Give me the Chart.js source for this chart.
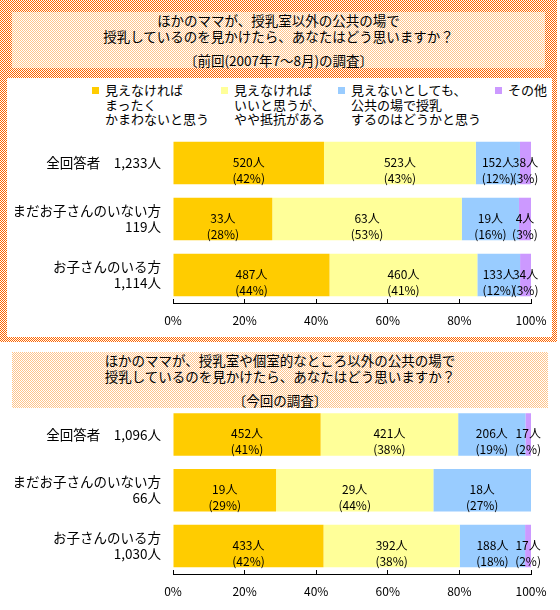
<!DOCTYPE html>
<html lang="ja">
<head>
<meta charset="UTF-8">
<title>授乳室以外の公共の場での授乳について</title>
<script src="https://cdn.jsdelivr.net/npm/chart.js@4"></script>
<style>
  body { margin: 0; background: #fff; font-family: "Noto Sans CJK JP", sans-serif; color: #000; }
  #page { position: relative; width: 560px; height: 610px; overflow: hidden; }
  .frame { position: absolute; left: 0; top: 0; width: 557px; height: 342px; background-color: #ff9a55;
    background-image: url("data:image/svg+xml,%3Csvg xmlns='http://www.w3.org/2000/svg' width='2' height='2' shape-rendering='crispEdges'%3E%3Crect width='2' height='2' fill='%23ffffff'/%3E%3Crect width='1' height='1' fill='%23ff6600'/%3E%3Crect x='1' y='1' width='1' height='1' fill='%23ff6600'/%3E%3C/svg%3E"); }
  .inner { position: absolute; left: 7px; top: 78px; width: 545px; height: 259px; background: #fff; }
  .title { position: absolute; left: 12px; height: 56px; text-align: center;
    font-size: 13.5px; line-height: 16px; background-color: #ffe2c6;
    background-image: url("data:image/svg+xml,%3Csvg xmlns='http://www.w3.org/2000/svg' width='2' height='2' shape-rendering='crispEdges'%3E%3Crect width='2' height='2' fill='%23ffffff'/%3E%3Crect width='1' height='1' fill='%23ffc48a'/%3E%3Crect x='1' y='1' width='1' height='1' fill='%23ffc48a'/%3E%3C/svg%3E"); }
  .title .sub { margin-top: 8px; }
  .legend-item { position: absolute; top: 83px; font-size: 13px; line-height: 14.5px; white-space: pre-line; }
  .legend-item i { position: absolute; left: -13px; top: 4px; width: 7px; height: 7px; }
  canvas { position: absolute; left: 0; }
</style>
</head>
<body>
<div id="page">
  <div class="frame"></div>
  <div class="title" style="top:12px; width:533px;">
    <div>ほかのママが、授乳室以外の公共の場で</div>
    <div>授乳しているのを見かけたら、あなたはどう思いますか？</div>
    <div class="sub">〔前回(2007年7～8月)の調査〕</div>
  </div>
  <div class="inner"></div>
  <div id="legend"></div>
  <div class="title" style="top:352px; width:536px;">
    <div>ほかのママが、授乳室や個室的なところ以外の公共の場で</div>
    <div>授乳しているのを見かけたら、あなたはどう思いますか？</div>
    <div class="sub">〔今回の調査〕</div>
  </div>
  <canvas id="prevChart" width="560" height="210" style="top:128px"></canvas>
  <canvas id="currChart" width="560" height="210" style="top:400px"></canvas>
</div>
<script>
  // 回答の選択肢
  const seriesNames = [
    '見えなければ\nまったく\nかまわないと思う',
    '見えなければ\nいいと思うが、\nやや抵抗がある',
    '見えないとしても、\n公共の場で授乳\nするのはどうかと思う',
    'その他'
  ];
  const seriesColors = ['#FFCC00', '#FFFF99', '#99CCFF', '#CC99FF'];

  // 前回(2007年7～8月)の調査
  const prevGroups = [['全回答者　1,233人'], ['まだお子さんのいない方', '119人'], ['お子さんのいる方', '1,114人']];
  const prevTotals = [1233, 119, 1114];
  const prevCounts = [[520, 33, 487], [523, 63, 460], [152, 19, 133], [38, 4, 34]];
  const prevPercents = [[42, 28, 44], [43, 53, 41], [12, 16, 12], [3, 3, 3]];

  // 今回の調査
  const currGroups = [['全回答者　1,096人'], ['まだお子さんのいない方', '66人'], ['お子さんのいる方', '1,030人']];
  const currTotals = [1096, 66, 1030];
  const currCounts = [[452, 19, 433], [421, 29, 392], [206, 18, 188], [17, 0, 17]];
  const currPercents = [[41, 29, 42], [38, 44, 38], [19, 27, 18], [2, 0, 2]];

  // 凡例の位置
  const legendX = [105, 234, 351, 508];

  const legendBox = document.getElementById('legend');
  seriesNames.forEach((name, i) => {
    const item = document.createElement('div');
    item.className = 'legend-item';
    item.style.left = legendX[i] + 'px';
    item.textContent = name;
    const sw = document.createElement('i');
    sw.style.background = seriesColors[i];
    item.appendChild(sw);
    legendBox.appendChild(item);
  });

  Chart.defaults.font.family = '"Noto Sans CJK JP", sans-serif';
  Chart.defaults.color = '#000';

  // 棒の中に人数と割合を書く
  const barLabels = {
    id: 'barLabels',
    afterDatasetsDraw(chart) {
      const ctx = chart.ctx;
      ctx.save();
      ctx.font = '12px "Noto Sans CJK JP"';
      ctx.fillStyle = '#000';
      ctx.textAlign = 'center';
      ctx.textBaseline = 'middle';
      chart.data.datasets.forEach((ds, i) => {
        chart.getDatasetMeta(i).data.forEach((bar, j) => {
          const n = ds.counts[j];
          if (!n) return;
          const x = (bar.x + bar.base) / 2;
          ctx.fillText(n + '人', x, bar.y - 1);
          ctx.fillText('(' + ds.percents[j] + '%)', x, bar.y + 15);
        });
      });
      ctx.restore();
    }
  };

  function makeChart(id, groups, totals, counts, percents, padTop, axisHeight) {
    return new Chart(document.getElementById(id), {
      type: 'bar',
      data: {
        labels: groups,
        datasets: counts.map((row, i) => ({
          label: seriesNames[i],
          data: row.map((n, j) => n / totals[j] * 100),
          counts: row,
          percents: percents[i],
          backgroundColor: seriesColors[i],
          borderWidth: 0,
          barPercentage: 0.76,
          categoryPercentage: 1
        }))
      },
      options: {
        indexAxis: 'y',
        responsive: false,
        animation: false,
        layout: { padding: { top: padTop, right: 29, bottom: 0, left: 0 } },
        plugins: { legend: { display: false }, tooltip: { enabled: false } },
        scales: {
          x: {
            stacked: true,
            min: 0,
            max: 100,
            ticks: { stepSize: 20, callback: v => v + '%', font: { size: 12 }, padding: 14, maxRotation: 0 },
            grid: { drawOnChartArea: false, drawTicks: true, tickLength: -4, color: '#000' },
            border: { display: true, color: '#000', width: 1 },
            afterFit: s => { s.height = axisHeight; s.paddingLeft = 0; s.paddingRight = 0; }
          },
          y: {
            stacked: true,
            ticks: { font: { size: 13.5 }, padding: 12 },
            grid: { display: false, drawTicks: false },
            border: { display: false },
            afterFit: s => { s.width = 173; s.paddingTop = 0; s.paddingBottom = 0; }
          }
        }
      },
      plugins: [barLabels]
    });
  }

  makeChart('prevChart', prevGroups, prevTotals, prevCounts, prevPercents, 7, 35);
  makeChart('currChart', currGroups, currTotals, currCounts, currPercents, 6.5, 36);
</script>
</body>
</html>
